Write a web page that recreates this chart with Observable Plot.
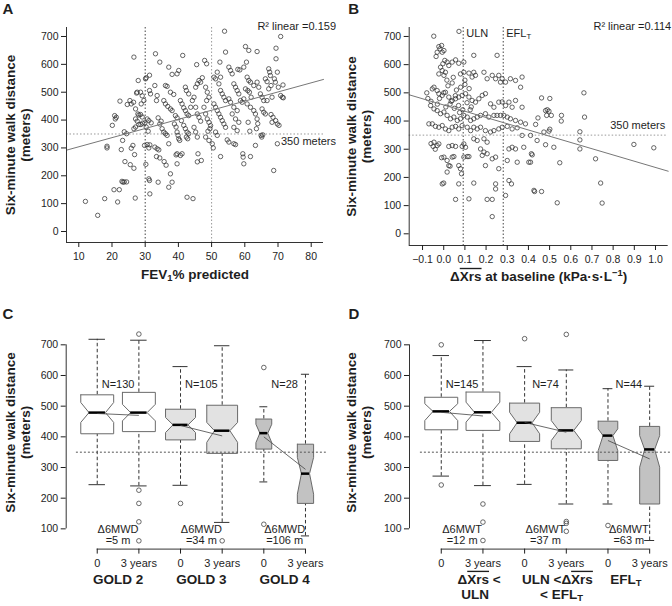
<!DOCTYPE html>
<html><head><meta charset="utf-8">
<script src="https://cdn.jsdelivr.net/npm/d3@7"></script>
<script src="https://cdn.jsdelivr.net/npm/@observablehq/plot@0.6"></script>
<style>
body{margin:0;background:#fff;}
#wrap{position:relative;width:672px;height:606px;overflow:hidden;background:#fff;}
.panel{position:absolute;}
.panel svg{display:block;}
</style></head><body><div id="wrap"></div>
<script>
// ---------------- DATA ----------------
// Panel A: FEV1 % predicted vs six-minute walk distance (m)
const scatterA = [[12.0,108],[15.7,58],[17.8,118],[20.6,150],[22.2,150],[21.7,106],[23.0,180],[23.3,177],[23.7,178],[24.4,178],[27.0,120],[23.9,251],[25.5,240],[26.6,227],[26.8,276],[25.8,299],[26.3,309],[18.5,306],[18.5,300],[22.8,294],[23.2,327],[23.7,358],[24.4,351],[20.1,381],[20.8,416],[21.3,410],[21.0,404],[22.4,468],[24.6,456],[25.4,470],[25.8,458],[26.5,464],[26.6,626],[27.4,497],[27.6,500],[28.6,500],[27.9,542],[27.1,440],[27.8,422],[27.1,404],[27.6,396],[28.1,418],[28.6,420],[29.1,411],[26.6,369],[27.1,375],[28.1,384],[28.7,384],[29.2,389],[28.8,458],[29.6,470],[29.1,487],[29.9,390],[30.3,375],[30.9,360],[29.8,309],[30.6,312],[31.1,300],[31.4,311],[30.2,241],[31.1,189],[31.3,183],[31.4,135],[30.1,548],[30.3,552],[31.3,561],[31.3,506],[31.6,494],[30.6,404],[31.1,398],[31.8,390],[33.1,638],[34.4,608],[32.9,524],[33.6,488],[33.4,470],[33.9,408],[34.4,386],[34.8,396],[35.1,369],[35.6,357],[36.1,351],[36.6,345],[32.9,303],[33.6,297],[34.1,293],[33.4,269],[34.4,264],[33.9,177],[35.7,251],[36.3,238],[37.1,315],[37.6,207],[37.1,159],[38.1,177],[37.1,590],[38.1,564],[36.1,524],[36.6,521],[37.6,500],[38.6,492],[35.6,470],[36.1,458],[36.8,449],[37.6,440],[38.1,434],[39.1,416],[39.6,408],[38.8,386],[39.3,375],[39.6,357],[39.9,345],[40.1,333],[40.4,327],[39.3,275],[39.6,279],[39.6,243],[41.3,632],[40.1,578],[39.6,566],[42.1,518],[42.4,506],[43.1,494],[40.6,470],[41.1,458],[41.6,444],[42.1,434],[42.6,422],[43.1,416],[40.9,398],[41.6,381],[42.1,369],[42.6,357],[43.1,351],[41.1,279],[40.6,273],[42.6,123],[44.4,118],[42.4,339],[42.8,333],[43.7,446],[44.2,470],[44.7,482],[45.2,518],[45.7,530],[45.5,599],[46.2,542],[46.7,536],[47.2,552],[45.2,446],[45.7,422],[46.2,410],[46.7,396],[44.7,374],[45.2,357],[45.7,339],[45.9,279],[46.9,255],[45.7,250],[47.9,614],[48.5,602],[48.2,518],[48.7,500],[49.2,482],[48.5,470],[47.7,446],[48.2,422],[48.7,404],[49.2,392],[49.7,380],[49.5,369],[48.9,360],[48.2,339],[49.2,327],[50.2,315],[50.5,300],[50.7,554],[51.2,548],[52.7,554],[51.7,572],[52.2,530],[52.5,608],[53.9,719],[54.2,644],[52.7,506],[53.2,494],[53.7,482],[54.2,470],[50.7,458],[51.2,446],[51.7,434],[52.2,422],[52.7,410],[53.2,398],[53.7,386],[54.2,374],[51.2,357],[51.7,345],[52.7,269],[54.7,329],[55.2,321],[55.2,590],[55.7,578],[56.2,566],[56.7,530],[57.2,518],[57.7,506],[58.2,494],[55.2,476],[55.7,464],[56.7,446],[57.7,434],[58.7,470],[59.2,464],[56.2,422],[57.2,404],[58.2,392],[56.7,374],[57.7,362],[56.7,315],[57.2,312],[57.9,582],[58.5,580],[60.2,664],[61.2,650],[60.5,608],[59.7,590],[60.7,554],[61.2,542],[61.7,536],[60.2,512],[60.9,506],[61.4,500],[61.9,482],[59.7,476],[60.7,458],[61.7,446],[62.7,434],[59.4,279],[59.5,267],[59.7,243],[61.7,269],[61.0,392],[61.5,360],[63.2,422],[63.7,404],[63.9,387],[63.5,369],[63.2,309],[63.7,646],[62.7,524],[63.7,536],[64.2,518],[64.7,494],[65.2,482],[65.7,470],[65.2,440],[65.7,428],[66.2,422],[64.9,345],[65.1,339],[65.4,347],[66.2,548],[66.7,538],[67.2,584],[67.5,572],[67.7,560],[67.9,524],[67.2,512],[66.7,470],[68.2,482],[67.9,420],[68.5,410],[68.2,392],[68.7,219],[68.9,548],[69.2,536],[69.4,658],[69.4,620],[69.8,572],[70.1,518],[70.8,700],[71.5,526],[70.8,488],[71.3,482],[70.3,381],[69.8,315],[69.3,398],[69.8,386],[71.6,480]];
const fitA = {intercept: 271.3, slope: 3.28};
const r2A = "R² linear =0.159";
const fevTicks = [10,20,30,40,50,60,70,80];
const fevCuts = [30, 50];

// Panel B: delta Xrs at baseline vs six-minute walk distance (m)
const scatterB = [[-0.047,701],[0.072,718],[-0.023,664],[-0.018,656],[-0.010,668],[0.001,650],[-0.007,644],[-0.031,644],[-0.036,629],[0.005,615],[0.016,609],[-0.004,603],[0.024,597],[0.040,609],[0.056,617],[0.071,605],[0.095,609],[-0.015,591],[-0.007,579],[-0.023,567],[0.001,562],[0.008,573],[0.079,567],[0.095,573],[0.119,570],[0.142,573],[0.134,556],[0.150,562],[0.190,573],[0.205,550],[0.229,562],[0.245,550],[0.260,562],[0.268,538],[0.276,550],[0.252,633],[0.142,633],[0.292,538],[0.315,550],[0.339,544],[0.370,556],[0.363,520],[-0.054,514],[-0.046,520],[-0.031,508],[-0.023,497],[-0.007,491],[0.008,502],[0.024,485],[0.040,473],[0.056,479],[0.071,485],[0.087,491],[0.103,497],[0.119,485],[0.134,473],[0.150,467],[0.166,479],[0.182,491],[0.197,497],[0.221,461],[0.237,449],[0.260,467],[0.276,468],[0.292,455],[0.308,467],[0.323,449],[0.339,473],[0.370,449],[-0.062,455],[-0.046,443],[-0.031,437],[-0.015,426],[0.001,432],[0.016,420],[0.032,408],[0.048,414],[0.064,402],[0.079,408],[0.095,420],[0.111,414],[0.127,402],[0.142,408],[0.158,414],[0.174,420],[0.197,426],[0.213,414],[0.237,420],[0.252,420],[0.268,420],[0.284,420],[0.300,414],[0.315,408],[0.339,402],[0.363,396],[0.386,390],[-0.054,390],[-0.039,381],[-0.023,378],[-0.007,384],[0.008,372],[0.024,366],[0.040,378],[0.056,381],[0.071,372],[0.087,384],[0.111,378],[0.127,366],[0.142,378],[0.158,372],[0.174,378],[0.197,366],[0.221,361],[0.237,366],[0.260,372],[0.276,378],[0.300,381],[0.323,372],[0.347,376],[0.370,349],[-0.046,325],[-0.031,313],[-0.023,319],[0.024,310],[0.040,313],[0.056,310],[0.087,310],[0.095,319],[0.103,307],[0.142,337],[0.158,331],[0.190,337],[0.205,325],[0.174,301],[0.190,290],[0.205,284],[0.182,278],[0.229,266],[0.245,272],[0.308,301],[0.323,307],[0.339,301],[0.378,307],[0.414,284],[0.001,272],[0.016,260],[0.024,242],[0.040,272],[0.048,274],[0.071,242],[0.095,272],[0.111,274],[0.119,274],[0.197,242],[0.260,231],[0.300,260],[0.347,254],[0.402,254],[0.016,219],[0.084,213],[0.079,231],[-0.007,177],[0.071,177],[0.142,180],[0.245,177],[0.245,159],[0.308,189],[0.320,177],[0.056,122],[0.119,124],[0.205,122],[0.229,122],[0.292,136],[0.229,61],[0.426,154],[0.662,500],[0.462,482],[0.501,480],[0.481,437],[0.489,440],[0.497,435],[0.486,420],[0.508,420],[0.556,420],[0.555,400],[0.665,414],[0.434,388],[0.445,411],[0.473,361],[0.497,364],[0.501,371],[0.643,362],[0.643,333],[0.643,301],[0.410,349],[0.441,331],[0.481,316],[0.520,307],[0.898,317],[0.992,305],[0.418,280],[0.410,254],[0.548,252],[0.717,266],[0.741,180],[0.429,150],[0.462,150],[0.536,110],[0.748,109],[-0.07,390],[-0.06,320],[-0.05,310],[-0.04,300],[0.00,180],[0.03,240],[-0.01,270],[-0.08,500],[-0.075,480],[-0.06,470],[0.01,450],[0.03,460],[0.05,445],[0.07,455],[0.09,440],[0.11,465],[0.13,450],[0.02,525],[0.04,535],[0.06,510],[0.08,520],[0.10,530],[0.12,515],[0.035,470],[0.055,490],[0.075,430],[0.0,500],[-0.02,480],[-0.03,460],[0.015,545],[0.045,555],[0.10,545],[0.125,440]];
const fitB = {intercept: 456.9, slope: -221.6};
const r2B = "R² linear =0.114";
const dxrsTicks = [-0.1,0,0.1,0.2,0.3,0.4,0.5,0.6,0.7,0.8,0.9,1.0];
const dxrsCuts = [{v: 0.092, label: "ULN"}, {v: 0.281, label: "EFL_{T}"}];

const walkTicks = [0,100,200,300,400,500,600,700];
const boxTicks = [100,200,300,400,500,600,700];
const threshold = 350;
const timeLabels = ["0", "3 years"];

// Panel C: GOLD stages, baseline (0) and 3 years
const cGroups = [["GOLD 2"], ["GOLD 3"], ["GOLD 4"]];
const cN = ["N=130", "N=105", "N=28"];
const cDelta = ["=5 m", "=34 m", "=106 m"];
const cLow   = [244, 240, 242, 121, 253, 77];
const cQ1    = [410, 417, 390, 346, 360, 183];
const cMed   = [479, 479, 439, 420, 412, 280];
const cQ3    = [537, 545, 490, 503, 458, 376];
const cHigh  = [718, 715, 629, 697, 498, 604];
const cNotchLo = [447, 452, 414, 382, 381, 213];
const cNotchHi = [512, 506, 463, 447, 441, 333];
const cOutliers = [[], [735, 226, 183, 123, 61], [183], [61], [626, 115], []];
const cMeans = [[476, 470], [437, 403], [400, 294]];

// Panel D: delta Xrs categories, baseline (0) and 3 years
const dGroups = [["Δ~{Xrs} <", "ULN"], ["ULN <Δ~{Xrs}", "< EFL_{T}"], ["EFL_{T}"]];
const dN = ["N=145", "N=74", "N=44"];
const dDelta = ["=12 m", "=37 m", "=63 m"];
const dLow   = [272, 241, 245, 181, 181, 62];
const dQ1    = [423, 421, 385, 361, 323, 181];
const dMed   = [483, 480, 446, 421, 404, 359];
const dQ3    = [529, 546, 510, 495, 451, 434];
const dHigh  = [665, 714, 629, 618, 557, 565];
const dNotchLo = [453, 448, 410, 388, 355, 301];
const dNotchHi = [508, 513, 480, 453, 426, 404];
const dOutliers = [[700, 243], [181, 122, 62], [720], [734, 124, 118, 92], [111], []];
const dMeans = [[480, 468], [447, 415], [388, 328]];

// ---------------- RENDER ----------------
const FONT = '"Liberation Sans", Arial, Helvetica, sans-serif';
const wrap = document.getElementById("wrap");
const NS = "http://www.w3.org/2000/svg";

function richify(svg) {
  svg.querySelectorAll("text").forEach(t => {
    if (t.querySelector("tspan")) {
      t.querySelectorAll("tspan").forEach(ts => richNode(ts));
    } else richNode(t);
  });
}
function richNode(t) {
  const s = t.textContent;
  if (!/[_^~]\{/.test(s)) return;
  t.textContent = "";
  const re = /([_^~])\{([^}]*)\}/g;
  let last = 0, m;
  const add = (txt, kind) => {
    const ts = document.createElementNS(NS, "tspan");
    ts.textContent = txt;
    if (kind === "_") { ts.setAttribute("baseline-shift", "-22%"); ts.setAttribute("style", "font-size:70%"); }
    if (kind === "^") { ts.setAttribute("baseline-shift", "super"); ts.setAttribute("style", "font-size:70%"); }
    if (kind === "~") { ts.setAttribute("text-decoration", "overline"); ts.setAttribute("style", "text-decoration:overline"); }
    t.appendChild(ts);
  };
  while ((m = re.exec(s))) {
    if (m.index > last) add(s.slice(last, m.index));
    add(m[2], m[1]);
    last = re.lastIndex;
  }
  if (last < s.length) add(s.slice(last));
}
function mount(svg, left, top) {
  const d = document.createElement("div");
  d.className = "panel";
  d.style.left = left + "px"; d.style.top = top + "px";
  d.appendChild(svg);
  wrap.appendChild(d);
  richify(svg);
}
const baseStyle = {fontFamily: FONT, fontSize: "10.5px", color: "#1e1e1e", background: "white", overflow: "visible"};
const titleOpts = {fontWeight: "bold", fontSize: 13.5, textAnchor: "middle", lineAnchor: "middle"};
const letterOpts = {frameAnchor: "top-left", textAnchor: "start", lineAnchor: "middle", fontWeight: "bold", fontSize: 15};

// Panel A
{
  const X = [6.3, 83.7], Y = [-39.5, 732.3];
  const pts = scatterA.map(([x, y]) => ({x, y}));
  const svg = Plot.plot({
    width: 336, height: 300, marginLeft: 66, marginRight: 13, marginTop: 27, marginBottom: 58,
    x: {domain: X}, y: {domain: Y}, style: baseStyle,
    marks: [
      Plot.ruleX([fevCuts[0]], {stroke: "#444", strokeDasharray: "1.5,2"}),
      Plot.ruleX([fevCuts[1]], {stroke: "#999", strokeDasharray: "1.5,2"}),
      Plot.ruleY([threshold], {stroke: "#999", strokeDasharray: "1.5,2"}),
      Plot.dot(pts, {x: "x", y: "y", r: 2.2, stroke: "#333", strokeWidth: 0.75, fill: "none"}),
      Plot.line(X, {x: d => d, y: d => fitA.intercept + fitA.slope * d, stroke: "#777", strokeWidth: 1}),
      Plot.ruleX([X[0]], {stroke: "#333"}),
      Plot.ruleY([Y[0]], {stroke: "#333"}),
      Plot.axisX({ticks: fevTicks, tickSize: 5, tickPadding: 5, label: null}),
      Plot.axisY({ticks: walkTicks, tickSize: 5, tickPadding: 3, label: null}),
      Plot.text(["A"], {...letterOpts, dx: -64, dy: -18.5}),
      Plot.text([r2A], {frameAnchor: "top-right", textAnchor: "end", lineAnchor: "middle", dx: 12.5, dy: -1, fontSize: 11}),
      Plot.text(["350 meters"], {y: 324, frameAnchor: "right", textAnchor: "end", lineAnchor: "middle", dx: 12.5, fontSize: 11}),
      Plot.text(["FEV_{1}% predicted"], {frameAnchor: "bottom", dy: 32, ...titleOpts}),
      Plot.text(["Six-minute walk distance"], {frameAnchor: "left", dx: -56, rotate: -90, ...titleOpts}),
      Plot.text(["(meters)"], {frameAnchor: "left", dx: -41, rotate: -90, ...titleOpts})
    ]
  });
  mount(svg, 0, 0);
}

// Panel B
{
  const X = [-0.163, 1.06], Y = [-41.5, 731.8];
  const pts = scatterB.map(([x, y]) => ({x, y}));
  const fmt = d => (d < 0 ? "\u2212" : "") + Math.abs(d).toFixed(1);
  const svg = Plot.plot({
    width: 336, height: 300, marginLeft: 72.7, marginRight: 4.3, marginTop: 27, marginBottom: 55,
    x: {domain: X}, y: {domain: Y}, style: baseStyle,
    marks: [
      Plot.ruleX(dxrsCuts, {x: "v", stroke: "#444", strokeDasharray: "1.5,2"}),
      Plot.ruleY([threshold], {stroke: "#999", strokeDasharray: "1.5,2"}),
      Plot.dot(pts, {x: "x", y: "y", r: 2.2, stroke: "#333", strokeWidth: 0.75, fill: "none"}),
      Plot.line(X, {x: d => d, y: d => fitB.intercept + fitB.slope * d, stroke: "#777", strokeWidth: 1}),
      Plot.ruleX([X[0]], {stroke: "#333"}),
      Plot.ruleY([Y[0]], {stroke: "#333"}),
      Plot.axisX({ticks: dxrsTicks, tickFormat: fmt, tickSize: 5, tickPadding: 5, label: null}),
      Plot.axisY({ticks: walkTicks, tickSize: 5, tickPadding: 3, label: null}),
      Plot.text(dxrsCuts, {x: "v", y: 711, text: "label", textAnchor: "start", lineAnchor: "middle", dx: 3, fontSize: 11}),
      Plot.text(["B"], {...letterOpts, dx: -61, dy: -18.5}),
      Plot.text([r2B], {frameAnchor: "top-right", textAnchor: "end", lineAnchor: "middle", dx: 3, dy: -1, fontSize: 11}),
      Plot.text(["350 meters"], {y: 384, frameAnchor: "right", textAnchor: "end", lineAnchor: "middle", dx: -3, fontSize: 11}),
      Plot.text(["Δ~{Xrs} at baseline (kPa·s·L^{−1})"], {frameAnchor: "bottom", dy: 31, ...titleOpts}),
      Plot.text(["Six-minute walk distance"], {frameAnchor: "left", dx: -57.7, rotate: -90, ...titleOpts}),
      Plot.text(["(meters)"], {frameAnchor: "left", dx: -42.7, rotate: -90, ...titleOpts})
    ]
  });
  mount(svg, 336, 0);
}

// Box panels
function boxPanel(o) {
  const Y = [34, 762];
  const pos = [1, 2, 3, 4, 5, 6];
  const boxes = pos.map((p, i) => ({
    p, low: o.low[i], q1: o.q1[i], med: o.med[i], q3: o.q3[i], high: o.high[i],
    nlo: o.nlo[i], nhi: o.nhi[i], hw: o.wex[i] / 2, fill: o.fills[Math.floor(i / 2)]
  }));
  const poly = b => {
    const L = b.p - b.hw, R = b.p + b.hw, l = b.p - b.hw * 0.5, r = b.p + b.hw * 0.5;
    return [[L,b.q3],[R,b.q3],[R,b.nhi],[r,b.med],[R,b.nlo],[R,b.q1],[L,b.q1],[L,b.nlo],[l,b.med],[L,b.nhi],[L,b.q3]]
      .map(([x, y]) => ({x, y}));
  };
  const outs = o.out.flatMap((arr, i) => arr.map(v => ({p: pos[i], v})));
  const groups = [0, 1, 2].map(g => ({
    mid: 2 * g + 1.5, p0: 2 * g + 1, p1: 2 * g + 2,
    m0: o.means[g][0], m1: o.means[g][1], n: o.n[g], delta: o.delta[g], lines: o.groups[g]
  }));
  const catLines = groups.flatMap((g, gi) => g.lines.map((t, li) => ({mid: g.mid, t, li, dx: o.catDx[gi][li]})));
  const smallText = {fontSize: 11, textAnchor: "middle", lineAnchor: "middle"};
  const svg = Plot.plot({
    width: 336, height: 306, marginLeft: o.marginLeft, marginRight: o.marginRight, marginTop: 25.3, marginBottom: 57.4,
    x: {domain: [o.xmin, 6.5]}, y: {domain: Y}, style: baseStyle,
    marks: [
      Plot.ruleX(boxes, {x: "p", y1: "q3", y2: "high", stroke: "#333", strokeDasharray: "3.5,2.5"}),
      Plot.ruleX(boxes, {x: "p", y1: "low", y2: "q1", stroke: "#333", strokeDasharray: "3.5,2.5"}),
      Plot.ruleY(boxes, {y: "high", x1: d => d.p - d.hw / 2, x2: d => d.p + d.hw / 2, stroke: "#333"}),
      Plot.ruleY(boxes, {y: "low", x1: d => d.p - d.hw / 2, x2: d => d.p + d.hw / 2, stroke: "#333"}),
      ...boxes.map(b => Plot.line(poly(b), {x: "x", y: "y", fill: b.fill, stroke: "#6a6a6a", strokeWidth: 1})),
      Plot.ruleY(boxes, {y: "med", x1: d => d.p - d.hw * 0.5, x2: d => d.p + d.hw * 0.5, stroke: "#000", strokeWidth: 2.5}),
      Plot.link(groups, {x1: "p0", y1: "m0", x2: "p1", y2: "m1", stroke: "#444", strokeWidth: 0.8}),
      Plot.dot(outs, {x: "p", y: "v", r: 2.3, stroke: "#444", strokeWidth: 0.8, fill: "none"}),
      Plot.ruleY([threshold], {x1: 0.5, x2: 6.5, stroke: "#555", strokeDasharray: "2,2"}),
      Plot.ruleX([o.xmin], {y1: boxTicks[0], y2: boxTicks[boxTicks.length - 1], stroke: "#333"}),
      Plot.ruleY([Y[0]], {x1: pos[0], x2: pos[5], stroke: "#333"}),
      Plot.axisY({ticks: boxTicks, tickSize: 5, tickPadding: 3, label: null}),
      Plot.axisX({ticks: pos, tickFormat: p => timeLabels[(p - 1) % 2], tickSize: 5, tickPadding: 5, label: null, fontSize: 11}),
      Plot.text(groups, {x: "mid", y: 570, text: "n", ...smallText}),
      Plot.text(groups, {x: "mid", y: 98, text: () => o.deltaTitle, ...smallText}),
      Plot.text(groups, {x: "mid", y: 61, text: "delta", ...smallText}),
      ...catLines.map(c => Plot.text([c.t], {x: c.mid, frameAnchor: "bottom", dy: 30.3 + c.li * 15.5, dx: c.dx, ...titleOpts})),
      Plot.text([o.letter], {...letterOpts, dx: o.letterDx, dy: -12}),
      Plot.text(["Six-minute walk distance"], {frameAnchor: "left", dx: o.titleDx, dy: -5, rotate: -90, ...titleOpts}),
      Plot.text(["(meters)"], {frameAnchor: "left", dx: o.titleDx + 15, dy: -5, rotate: -90, ...titleOpts})
    ]
  });
  return svg;
}

mount(boxPanel({
  low: cLow, q1: cQ1, med: cMed, q3: cQ3, high: cHigh, nlo: cNotchLo, nhi: cNotchHi, out: cOutliers,
  means: cMeans, n: cN, delta: cDelta, groups: cGroups, deltaTitle: "Δ6MWD",
  wex: [0.79, 0.79, 0.72, 0.74, 0.38, 0.39], fills: ["#ffffff", "#e2e2e2", "#c2c2c2"],
  marginLeft: 65.7, marginRight: 10.2, xmin: 0.255, catDx: [[0], [0], [0]],
  letter: "C", letterDx: -63.7, titleDx: -55.7
}), 0, 300);

mount(boxPanel({
  low: dLow, q1: dQ1, med: dMed, q3: dQ3, high: dHigh, nlo: dNotchLo, nhi: dNotchHi, out: dOutliers,
  means: dMeans, n: dN, delta: dDelta, groups: dGroups, deltaTitle: "Δ6MWT",
  wex: [0.79, 0.81, 0.72, 0.72, 0.47, 0.48], fills: ["#ffffff", "#e2e2e2", "#c2c2c2"],
  marginLeft: 73, marginRight: 2, xmin: 0.238, catDx: [[17, 13], [12, 16], [-3]],
  letter: "D", letterDx: -61, titleDx: -58
}), 336, 300);
</script></body></html>
